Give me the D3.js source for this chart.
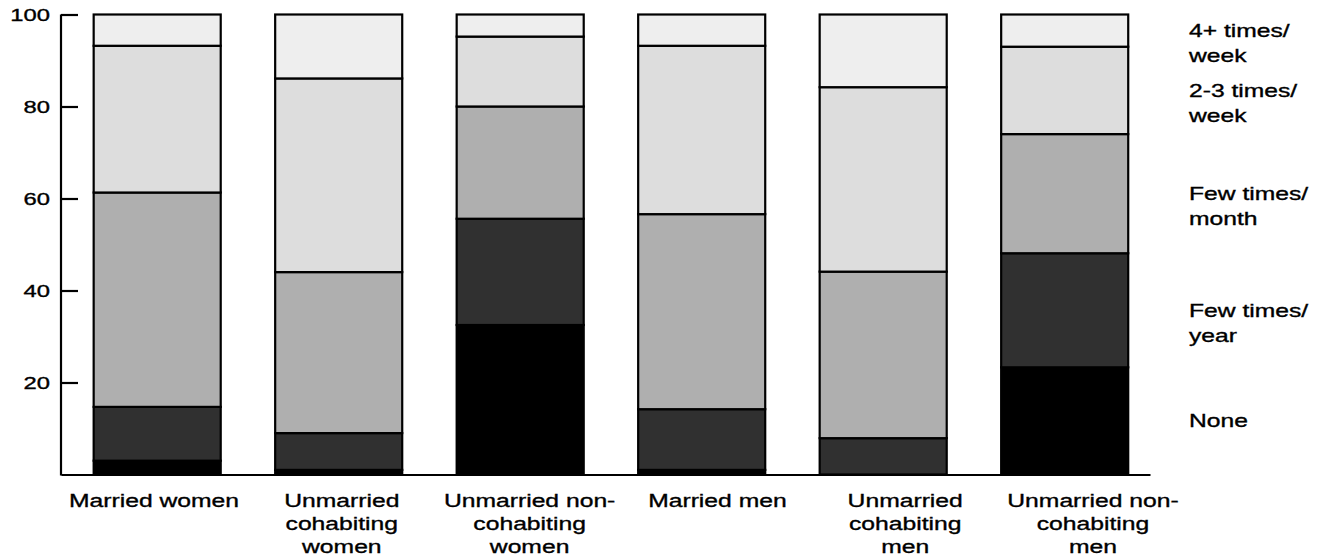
<!DOCTYPE html>
<html>
<head>
<meta charset="utf-8">
<script src="https://cdn.jsdelivr.net/npm/d3@7"></script>
<style>
  html, body { margin: 0; padding: 0; background: #fff; }
  svg text { font-family: "Liberation Sans", Arial, Helvetica, sans-serif; fill: #000; stroke: #000; stroke-width: 0.35px; }
</style>
</head>
<body>
<svg id="chart" width="1322" height="560"></svg>
<script>
// ---- data ----
const categories = ["Married women", "Unmarried cohabiting women", "Unmarried non-cohabiting women",
                    "Married men", "Unmarried cohabiting men", "Unmarried non-cohabiting men"];
const categoryLines = [
  ["Married women"],
  ["Unmarried", "cohabiting", "women"],
  ["Unmarried non-", "cohabiting", "women"],
  ["Married men"],
  ["Unmarried", "cohabiting", "men"],
  ["Unmarried non-", "cohabiting", "men"]
];
const seriesKeys = ["none", "fewYear", "fewMonth", "twoThreeWeek", "fourPlusWeek"];
const seriesLabels = [
  ["None"],
  ["Few times/", "year"],
  ["Few times/", "month"],
  ["2-3 times/", "week"],
  ["4+ times/", "week"]
];
const none         = [3.0, 1.0, 32.5, 1.0, 0.0, 23.3];
const fewYear      = [11.7, 8.0, 23.1, 13.2, 7.9, 24.8];
const fewMonth     = [46.6, 35.0, 24.4, 42.4, 36.2, 25.9];
const twoThreeWeek = [31.9, 42.1, 15.2, 36.6, 40.1, 19.0];
const fourPlusWeek = [6.8, 13.9, 4.8, 6.8, 15.8, 7.0];
const yTicks = [20, 40, 60, 80, 100];

const seriesColors = ["#000000", "#303030", "#afafaf", "#dddddd", "#eeeeee"];

// ---- build table ----
const seriesValues = { none, fewYear, fewMonth, twoThreeWeek, fourPlusWeek };
const table = categories.map((c, i) => {
  const row = { category: c };
  seriesKeys.forEach(k => row[k] = seriesValues[k][i]);
  return row;
});
const stacked = d3.stack().keys(seriesKeys)(table);

// ---- scales ----
const svg = d3.select("#chart");
const y = d3.scaleLinear().domain([0, 100]).range([474.5, 14.5]);
const x = d3.scaleBand().domain(categories).range([61, 1150])
  .paddingInner(0.3).paddingOuter(0.15).align(0.6);
const xLabel = d3.scalePoint().domain(categories).range([154, 1093]);
const color = d3.scaleOrdinal().domain(seriesKeys).range(seriesColors);

// ---- bars ----
const layers = svg.append("g").selectAll("g").data(stacked).join("g")
  .attr("fill", d => color(d.key));
layers.selectAll("rect").data(d => d).join("rect")
  .attr("x", d => x(d.data.category))
  .attr("width", x.bandwidth())
  .attr("y", d => y(d[1]))
  .attr("height", d => y(d[0]) - y(d[1]))
  .attr("stroke", "#000")
  .attr("stroke-width", 2.2);

// ---- y axis ----
const yAxis = svg.append("g").attr("transform", "translate(61,0)")
  .call(d3.axisLeft(y).tickValues(yTicks).tickSizeInner(-17).tickSizeOuter(0).tickPadding(11));
yAxis.select(".domain").attr("stroke", "#000").attr("stroke-width", 2.2)
  .attr("d", `M0,${y(100)}V${y(0) + 1}`);
yAxis.selectAll(".tick line").attr("stroke", "#000").attr("stroke-width", 2.2);
yAxis.selectAll(".tick text")
  .attr("x", null).attr("dy", null)
  .attr("transform", "translate(-11,6) scale(1.4,1)")
  .attr("text-anchor", "end")
  .attr("fill", "#000")
  .style("font-size", "17px")
  .style("font-family", "'Liberation Sans', Arial, sans-serif");

// ---- x axis (baseline) ----
const xAxis = svg.append("g").attr("transform", `translate(0,${y(0)})`)
  .call(d3.axisBottom(x).tickValues([]).tickSizeOuter(0));
xAxis.select(".domain").attr("stroke", "#000").attr("stroke-width", 2.2);

// ---- category labels ----
const catG = svg.append("g");
categories.forEach((c, i) => {
  categoryLines[i].forEach((line, j) => {
    catG.append("text")
      .attr("transform", `translate(${xLabel(c)},${506.5 + j * 23}) scale(1.3,1)`)
      .attr("text-anchor", "middle")
      .style("font-size", "19px")
      .text(line);
  });
});

// ---- series labels (right side) ----
const lastStack = stacked.map(s => s[s.length - 1]);
const legG = svg.append("g");
seriesKeys.forEach((k, i) => {
  const seg = lastStack[i];
  const yMid = y((seg[0] + seg[1]) / 2);
  seriesLabels[i].forEach((line, j) => {
    legG.append("text")
      .attr("transform", `translate(1189,${yMid + 6.5 + j * 25}) scale(1.37,1)`)
      .attr("text-anchor", "start")
      .style("font-size", "18px")
      .text(line);
  });
});
</script>
</body>
</html>
